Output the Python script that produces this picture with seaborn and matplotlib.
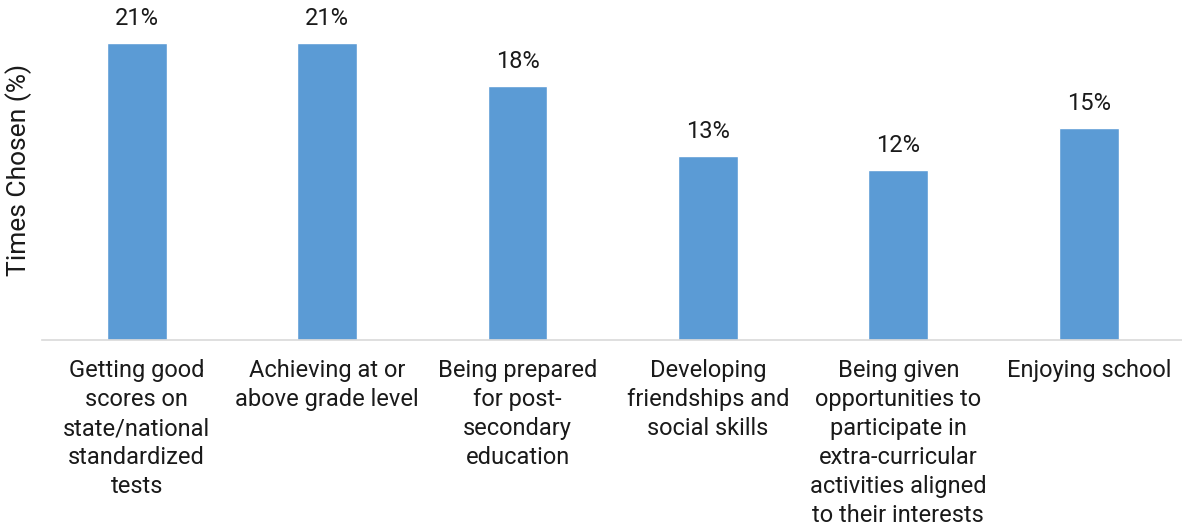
import matplotlib
matplotlib.use("Agg")
import matplotlib.pyplot as plt
import seaborn as sns
import pandas as pd

categories = [
    "Getting good\nscores on\nstate/national\nstandardized\ntests",
    "Achieving at or\nabove grade level",
    "Being prepared\nfor post-\nsecondary\neducation",
    "Developing\nfriendships and\nsocial skills",
    "Being given\nopportunities to\nparticipate in\nextra-curricular\nactivities aligned\nto their interests",
    "Enjoying school",
]
values = [21, 21, 18, 13, 12, 15]

df = pd.DataFrame({"category": categories, "value": values})

sns.set_theme(style="white")
plt.rcParams["font.family"] = ["Roboto", "DejaVu Sans"]

W, H = 1182, 527
fig = plt.figure(figsize=(W / 100, H / 100), dpi=100)
left_px, base_px = 41.5, 340
ax = fig.add_axes([left_px / W, (H - base_px) / H, (W - left_px) / W, base_px / H])

sns.barplot(data=df, x="category", y="value", color="#5B9BD5", width=0.315,
            saturation=1, ax=ax)

ax.set_xlim(-0.5, 5.49)
ax.set_ylim(0, 24.06)

text_color = "#1a1a1a"
for patch, v in zip(ax.patches, values):
    ax.annotate(f"{v}%", (patch.get_x() + patch.get_width() / 2, v),
                xytext=(0, 18), textcoords="offset pixels",
                ha="center", va="baseline", fontsize=17, color=text_color)

for s in ["top", "right", "left"]:
    ax.spines[s].set_visible(False)
ax.spines["bottom"].set_color("#D9D9D9")
ax.spines["bottom"].set_linewidth(1.2)

ax.set_yticks([])
ax.set_xlabel("")
ax.set_ylabel("Times Chosen (%)", fontsize=19, color=text_color, labelpad=7)
ax.tick_params(axis="x", length=0, pad=14, labelsize=17, labelcolor=text_color)
for lbl in ax.get_xticklabels():
    lbl.set_linespacing(1.33)
    lbl.set_ha("center")

fig.savefig("out.png", dpi=100)
